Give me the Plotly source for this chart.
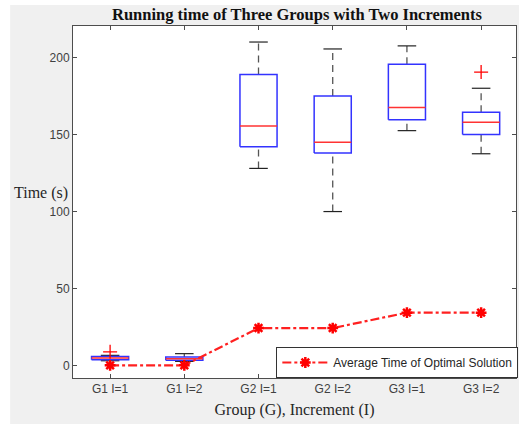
import plotly.graph_objects as go

categories = ["G1 I=1", "G1 I=2", "G2 I=1", "G2 I=2", "G3 I=1", "G3 I=2"]
lower_whisker = [3.2, 2.8, 128.0, 100.0, 152.5, 137.5]
q1 = [3.9, 3.5, 142.0, 138.0, 159.5, 150.0]
median = [5.0, 4.5, 155.5, 145.0, 167.5, 158.0]
q3 = [6.0, 5.6, 189.0, 175.0, 195.5, 164.5]
upper_whisker = [6.7, 7.8, 210.0, 205.5, 207.5, 180.0]
outlier_cat = [1, 6]
outlier_val = [9.0, 190.5]
avg_time = [0.2, 0.2, 24.4, 24.4, 34.4, 34.4]

pos = list(range(1, len(categories) + 1))
BW = 0.25   # half box width
CW = 0.125  # half cap width

fig = go.Figure()

# whiskers (dashed)
wx, wy = [], []
for p, lo, a, b, hi in zip(pos, lower_whisker, q1, q3, upper_whisker):
    wx += [p, p, None, p, p, None]
    wy += [b, hi, None, lo, a, None]
fig.add_trace(go.Scatter(x=wx, y=wy, mode="lines", showlegend=False, hoverinfo="skip",
                         line=dict(color="#555555", width=1.3, dash="7px,5px")))
# caps
cx, cy = [], []
for p, lo, hi in zip(pos, lower_whisker, upper_whisker):
    cx += [p - CW, p + CW, None, p - CW, p + CW, None]
    cy += [hi, hi, None, lo, lo, None]
fig.add_trace(go.Scatter(x=cx, y=cy, mode="lines", showlegend=False, hoverinfo="skip",
                         line=dict(color="#222222", width=1.2)))
# boxes
bx, by = [], []
for p, a, b in zip(pos, q1, q3):
    bx += [p - BW, p + BW, p + BW, p - BW, p - BW, None]
    by += [a, a, b, b, a, None]
fig.add_trace(go.Scatter(x=bx, y=by, mode="lines", showlegend=False, hoverinfo="skip",
                         line=dict(color="#3333ff", width=1.5)))
# medians
mx, my = [], []
for p, m in zip(pos, median):
    mx += [p - BW, p + BW, None]
    my += [m, m, None]
fig.add_trace(go.Scatter(x=mx, y=my, mode="lines", showlegend=False, hoverinfo="skip",
                         line=dict(color="#ff3333", width=1.5)))
# outliers
fig.add_trace(go.Scatter(x=outlier_cat, y=outlier_val, mode="markers", showlegend=False,
                         marker=dict(symbol="cross-thin", size=10, color="red",
                                     line=dict(color="red", width=1.3))))
# average line
fig.add_trace(go.Scatter(x=pos, y=avg_time, mode="lines+markers",
                         name="Average Time of Optimal Solution",
                         line=dict(color="#ff2020", width=2.2, dash="dashdot"),
                         marker=dict(symbol="asterisk-open", size=9, color="red",
                                     line=dict(color="red", width=2.5))))

axis_common = dict(showline=True, linecolor="#4d4d4d", linewidth=1, mirror="allticks",
                   ticks="inside", ticklen=4, tickcolor="#4d4d4d", showgrid=False,
                   zeroline=False,
                   tickfont=dict(family="Liberation Sans, Arial", size=12, color="#404040"))

serif = "Liberation Serif, Times New Roman"
fig.update_layout(
    width=519, height=424,
    margin=dict(l=73, r=2, t=26, b=46),
    paper_bgcolor="#f0f0f0", plot_bgcolor="white",
    title=dict(text="<b>Running time of Three Groups with Two Increments</b>",
               x=297 / 519, xanchor="center", y=1 - 14 / 424, yanchor="middle",
               font=dict(family=serif, size=16.5, color="#111111")),
    xaxis=dict(range=[0.5, 6.47], tickvals=pos, ticktext=categories,
               title=dict(text="Group (G), Increment (I)", standoff=8,
                          font=dict(family=serif, size=16, color="#262626")),
               **axis_common),
    yaxis=dict(range=[-8, 220.4], tickvals=[0, 50, 100, 150, 200], **axis_common),
    legend=dict(x=1.003, xanchor="right", y=0.0, yanchor="bottom",
                bgcolor="white", bordercolor="#333333", borderwidth=1,
                font=dict(family="Liberation Sans, Arial", size=12, color="#262626"),
                tracegroupgap=0, itemwidth=46),
    shapes=[
        dict(type="rect", xref="paper", yref="paper", x0=-0.2, x1=(10 - 73) / 444,
             y0=-0.2, y1=1.2, fillcolor="white", line=dict(width=0), layer="below"),
        dict(type="rect", xref="paper", yref="paper", x0=-0.2, x1=1.2,
             y0=(378 - 5) / 352, y1=1.2, fillcolor="white", line=dict(width=0), layer="below"),
    ],
    annotations=[dict(text="Time (s)", xref="paper", yref="paper", x=0.0, xanchor="right",
                      xshift=-3, y=(378 - 193) / 352, yanchor="middle", showarrow=False,
                      font=dict(family=serif, size=16, color="#262626"))],
)

fig.write_html("out.html", config={"displayModeBar": False},
               post_script="document.body.style.margin='0';")
